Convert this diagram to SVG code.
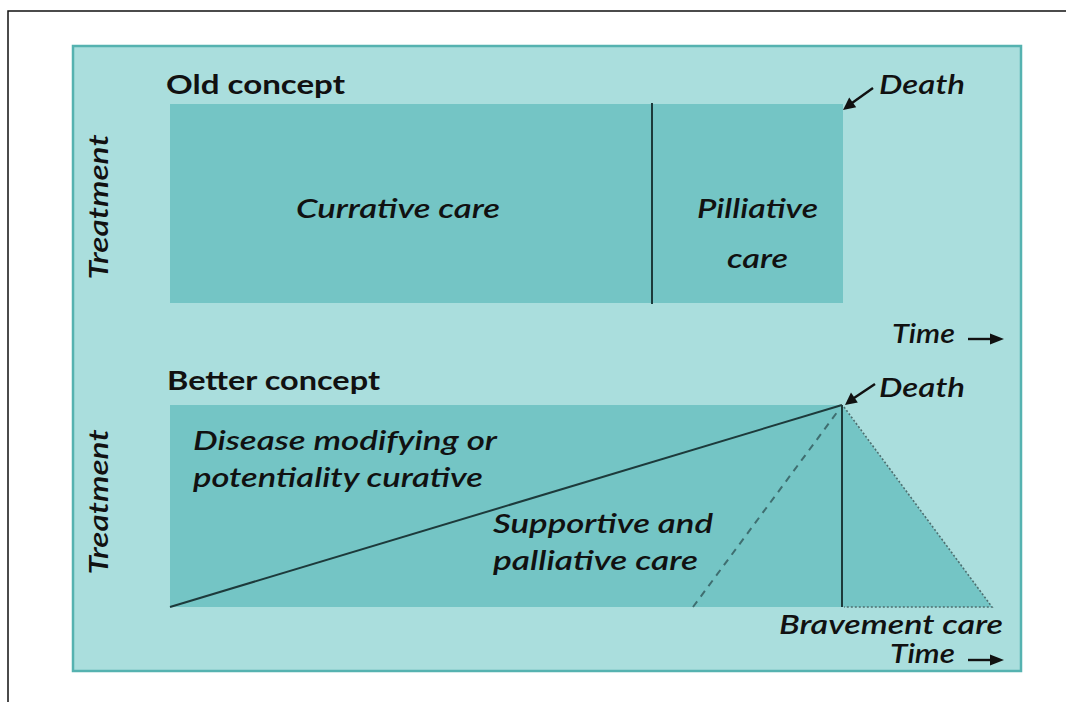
<svg xmlns="http://www.w3.org/2000/svg" width="1066" height="702" viewBox="0 0 1066 702">
  <defs>
    <style>
      .t { font-family: "Lato", "Liberation Sans", sans-serif; font-style: italic; font-weight: 600; font-size: 26px; fill: #111; }
      .h { font-family: "Lato", "Liberation Sans", sans-serif; font-weight: 700; font-size: 27px; fill: #111; }
      .box { fill: #74c5c5; }
      .ln { stroke: #1d3a3b; stroke-width: 2; fill: none; }
      .dash { stroke: #3f6e70; stroke-width: 2; stroke-dasharray: 7 6; fill: none; }
      .dot { stroke: #4d6f70; stroke-width: 1.6; stroke-dasharray: 2 2; fill: none; }
      .arr { stroke: #111; stroke-width: 2.4; fill: none; }
      .head { fill: #111; }
    </style>
  </defs>
  <rect width="1066" height="702" fill="#fff"/>
  <path d="M8,702 V11 H1066" stroke="#111" stroke-width="1.5" fill="none"/>
  <rect id="panel" x="73" y="46" width="948" height="625" fill="#aadedd" stroke="#55b2b0" stroke-width="2.5"/>

  <g id="old-concept">
    <text class="h" x="166" y="94" textLength="179" lengthAdjust="spacingAndGlyphs">Old concept</text>
    <rect id="curative" class="box" x="170" y="104" width="673" height="199"/>
    <text class="t" x="296" y="218" textLength="204" lengthAdjust="spacingAndGlyphs">Currative care</text>
    <g id="palliative">
      <text class="t" x="697" y="218" textLength="121" lengthAdjust="spacingAndGlyphs">Pilliative</text>
      <text class="t" x="727" y="268" textLength="61" lengthAdjust="spacingAndGlyphs">care</text>
    </g>
    <text class="t" x="879" y="94" textLength="86" lengthAdjust="spacingAndGlyphs">Death</text>
    <text class="t" transform="translate(108,207) rotate(-90)" text-anchor="middle" textLength="145" lengthAdjust="spacingAndGlyphs">Treatment</text>
    <text class="t" x="892" y="343" textLength="63" lengthAdjust="spacingAndGlyphs">Time</text>
  </g>

  <g id="better-concept">
    <text class="h" x="167" y="390" textLength="213" lengthAdjust="spacingAndGlyphs">Better concept</text>
    <rect id="better-box" class="box" x="170" y="405" width="672" height="202"/>
    <polygon id="bereavement" points="842,405 992,607 842,607" fill="#74c5c5"/>
    <text class="t" x="193" y="450" textLength="304" lengthAdjust="spacingAndGlyphs">Disease modifying or</text>
    <text class="t" x="193" y="487" textLength="290" lengthAdjust="spacingAndGlyphs">potentiality curative</text>
    <text class="t" x="493" y="533" textLength="220" lengthAdjust="spacingAndGlyphs">Supportive and</text>
    <text class="t" x="493" y="570" textLength="205" lengthAdjust="spacingAndGlyphs">palliative care</text>
    <text class="t" x="779" y="634" textLength="224" lengthAdjust="spacingAndGlyphs">Bravement care</text>
    <text class="t" x="879" y="397" textLength="86" lengthAdjust="spacingAndGlyphs">Death</text>
    <text class="t" transform="translate(108,502) rotate(-90)" text-anchor="middle" textLength="145" lengthAdjust="spacingAndGlyphs">Treatment</text>
    <text class="t" x="890" y="663" textLength="65" lengthAdjust="spacingAndGlyphs">Time</text>
  </g>

  <g id="connectors">
    <line class="ln" x1="652" y1="103" x2="652" y2="304"/>
    <line class="ln" x1="170" y1="607" x2="842" y2="405"/>
    <line class="ln" x1="842" y1="405" x2="842" y2="607"/>
    <line class="dash" x1="693" y1="607" x2="838" y2="411"/>
    <polyline class="dot" points="844,407 992,607 844,607"/>
    <line class="arr" x1="873" y1="88" x2="852" y2="103"/>
    <polygon class="head" points="843,110 849.2,97.6 856.2,107.2"/>
    <line class="arr" x1="875" y1="384" x2="854" y2="398"/>
    <polygon class="head" points="845,405 851.0,392.6 857.8,402.4"/>
    <line class="arr" x1="968" y1="339" x2="992" y2="339"/>
    <polygon class="head" points="1004,339 990,333.5 990,344.5"/>
    <line class="arr" x1="968" y1="660" x2="992" y2="660"/>
    <polygon class="head" points="1004,660 990,654.5 990,665.5"/>
  </g>
</svg>
